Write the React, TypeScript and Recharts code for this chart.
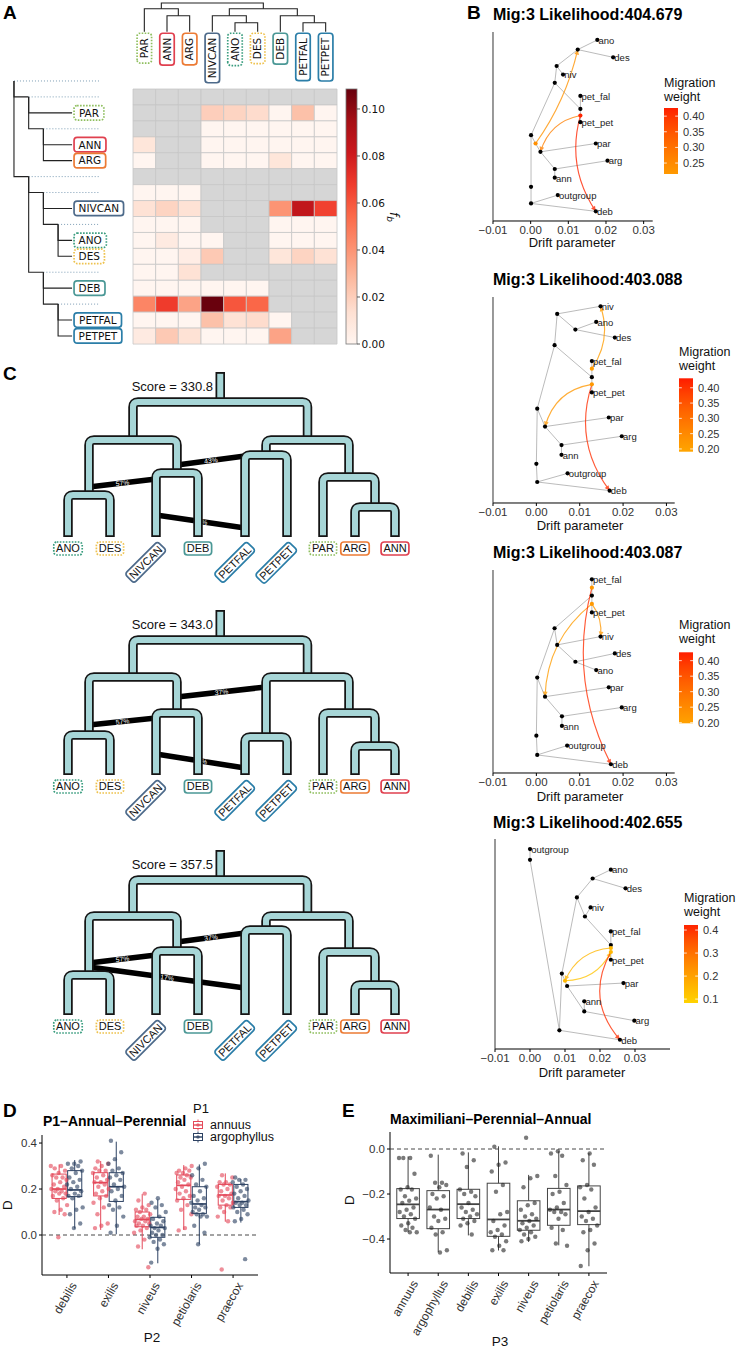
import React from "react";
import { ScatterChart, Scatter, XAxis, YAxis, BarChart, Bar, Cell } from "recharts";

const SANS = "'Liberation Sans', Arial, Helvetica, sans-serif";
const DEJA = "'DejaVu Sans', Verdana, sans-serif";

/* ---------------- A: f-branch heatmap ---------------- */
const hmCols = ["PAR", "ANN", "ARG", "NIVCAN", "ANO", "DES", "DEB", "PETFAL", "PETPET"];
const hmRows = ["", "PAR", "", "ANN", "ARG", "", "", "NIVCAN", "", "ANO", "DES", "", "DEB", "", "PETFAL", "PETPET"];
const X = null; // masked cell (grey)
const hmValues = [
  [X, X, X, X, X, X, X, X, X],
  [X, X, X, 0.02, 0.018, 0.015, 0, 0.025, 0],
  [X, X, X, 0, 0, 0, 0, 0, 0],
  [0.01, X, X, 0, 0, 0, 0, 0, 0],
  [0, X, X, 0, 0, 0, 0.01, 0, 0],
  [X, X, X, X, X, X, X, X, X],
  [0, 0, 0, X, X, X, X, X, X],
  [0.012, 0.018, 0.012, X, X, X, 0.04, 0.085, 0.066],
  [0, 0, 0, X, X, X, 0, 0, 0],
  [0, 0.007, 0, 0, X, X, 0, 0, 0],
  [0, 0, 0.005, 0.022, X, X, 0.01, 0.018, 0.012],
  [0, 0, 0.012, X, X, X, X, X, X],
  [0, 0, 0, 0, 0, 0, X, X, X],
  [0.045, 0.068, 0.035, 0.108, 0.06, 0.055, X, X, X],
  [0, 0, 0, 0.025, 0.012, 0.015, 0, X, X],
  [0.007, 0.022, 0.012, 0, 0, 0, 0.035, X, X],
];
const fbMax = 0.1085;
const fbTicks = [0, 0.02, 0.04, 0.06, 0.08, 0.1];

// row dendrogram: [id, depth, row, children]
const rowTree = [
  ["n0", 0, -1, ["n1", "n3"]],
  ["n1", 1, 0, ["PAR", "n2"]],
  ["n2", 2, 2, ["ANN", "ARG"]],
  ["n3", 1, 5, ["n4", "n6"]],
  ["n4", 2, 6, ["NIVCAN", "n5"]],
  ["n5", 3, 8, ["ANO", "DES"]],
  ["n6", 2, 11, ["DEB", "n7"]],
  ["n7", 3, 13, ["PETFAL", "PETPET"]],
];
const rowLeafDepth = 3.95;
const rowGuideEnd = 5.85;

// column dendrogram: [id, height, children]
const colTree = [
  ["c1", 2.13, ["ANN", "ARG"]],
  ["c2", 3.07, ["PAR", "c1"]],
  ["c3", 1.2, ["ANO", "DES"]],
  ["c4", 2.13, ["NIVCAN", "c3"]],
  ["c5", 1.2, ["PETFAL", "PETPET"]],
  ["c6", 2.13, ["DEB", "c5"]],
  ["c7", 3.07, ["c4", "c6"]],
  ["c8", 3.83, ["c2", "c7"]],
];

const taxonStyle = {
  PAR: { color: "#8fbf5f", dotted: true },
  ANN: { color: "#e0404f", dotted: false },
  ARG: { color: "#ec7b35", dotted: false },
  NIVCAN: { color: "#4d6a8a", dotted: false },
  ANO: { color: "#3a9d7f", dotted: true },
  DES: { color: "#eec24e", dotted: true },
  DEB: { color: "#4b9896", dotted: false },
  PETFAL: { color: "#2b7ea8", dotted: false },
  PETPET: { color: "#2b7ea8", dotted: false },
};

/* ---------------- C: admixture graphs ---------------- */
const cLeafPos = { ANO: 68, DES: 110, NIVCAN: 156, DEB: 198, PETFAL: 245, PETPET: 287, PAR: 323, ARG: 355, ANN: 395 };
const cLeafDepth = 135;
const cRotated = ["NIVCAN", "PETFAL", "PETPET"];
const cTopology = [
  ["root", ["L", "R"]],
  ["L", ["AD", "ND"]],
  ["R", ["PET", "PG"]],
  ["AD", ["ANO", "DES"]],
  ["ND", ["NIVCAN", "DEB"]],
  ["PET", ["PETFAL", "PETPET"]],
  ["PG", ["PAR", "AA"]],
  ["AA", ["ARG", "ANN"]],
];
const cScores = ["330.8", "343.0", "357.5"];
const cTreeTops = [402, 640, 880];
const cDepths = [
  { root: 0, L: 38, R: 38, AD: 93, ND: 71, PET: 53, PG: 75, AA: 105 },
  { root: 0, L: 37, R: 37, AD: 95, ND: 73, PET: 97, PG: 73, AA: 106 },
  { root: 0, L: 36, R: 36, AD: 95, ND: 71, PET: 50, PG: 72, AA: 105 },
];
// admixture edges: [from branch, depth, to branch, depth, label]
const cMigs = [
  [["ND", 63, "PETFAL", 54, "43%"], ["AD", 85, "NIVCAN", 77, "57%"], ["NIVCAN", 113, "PETFAL", 126, "21%"]],
  [["ND", 57, "PET", 47, "37%"], ["AD", 85, "NIVCAN", 78, "57%"], ["NIVCAN", 114, "PETFAL", 128, "19%"]],
  [["ND", 62, "PETFAL", 53, "37%"], ["AD", 83, "NIVCAN", 75, "57%"], ["AD", 87, "PETFAL", 108, "17%"]],
];

/* ---------------- B: TreeMix graphs ---------------- */
const bTitles = ["Mig:3 Likelihood:404.679", "Mig:3 Likelihood:403.088", "Mig:3 Likelihood:403.087", "Mig:3 Likelihood:402.655"];
const bLeafNames = ["ano", "des", "niv", "pet_fal", "pet_pet", "par", "arg", "ann", "outgroup", "deb"];

const b1Nodes = [
  ["ano", 0.0177, 0.958], ["des", 0.0219, 0.866], ["i1", 0.0125, 0.907], ["i2", 0.0069, 0.82],
  ["niv", 0.0086, 0.775], ["i3", 0.0064, 0.731], ["pet_fal", 0.0132, 0.662], ["i4", 0.0132, 0.593],
  ["m1", 0.0132, 0.558, 0.42], ["pet_pet", 0.0132, 0.523], ["i5", 0.0001, 0.454], ["m2", 0.0013, 0.41, 0.24],
  ["i6", 0.0026, 0.366], ["par", 0.0173, 0.41], ["arg", 0.0204, 0.319], ["i7", 0.0064, 0.275],
  ["ann", 0.0064, 0.229], ["i8", 0.0001, 0.181], ["outgroup", 0.0072, 0.137], ["i9", 0.0001, 0.093], ["deb", 0.0173, 0.051],
];
const b1Edges = [["ano", "i1"], ["des", "i1"], ["i1", "i2"], ["i2", "niv"], ["i2", "i3"], ["i3", "i4"], ["i4", "pet_fal"], ["i4", "m1"], ["m1", "pet_pet"], ["i3", "i5"], ["i5", "m2"], ["m2", "i6"], ["i6", "par"], ["i6", "i7"], ["i7", "arg"], ["i7", "ann"], ["i5", "i8"], ["i8", "i9"], ["i9", "outgroup"], ["i9", "deb"]];
const b1Migs = [["m2", "i1", 0.23], ["m1", "i6", 0.27], ["m1", "deb", 0.42]];
const b1Bend = [0.1, 0.3, 0.23];

const b2Nodes = [
  ["niv", 0.0148, 0.955], ["i1", 0.0048, 0.918], ["ano", 0.0138, 0.879], ["i2", 0.009, 0.842], ["des", 0.0181, 0.803],
  ["i3", 0.0042, 0.766], ["pet_fal", 0.0128, 0.689], ["m1", 0.0128, 0.652, 0.21], ["i4", 0.0128, 0.611], ["m2", 0.0128, 0.576, 0.22],
  ["pet_pet", 0.0128, 0.537], ["i5", 0.0002, 0.458], ["i6", 0.002, 0.371], ["par", 0.0167, 0.415], ["arg", 0.0197, 0.324],
  ["i7", 0.0058, 0.281], ["ann", 0.0058, 0.234], ["i8", 0, 0.19], ["outgroup", 0.0072, 0.144], ["i9", 0.0002, 0.102], ["deb", 0.0169, 0.06],
];
const b2Edges = [["niv", "i1"], ["i1", "i2"], ["i2", "ano"], ["i2", "des"], ["i1", "i3"], ["i3", "i4"], ["i4", "m1"], ["m1", "pet_fal"], ["i4", "m2"], ["m2", "pet_pet"], ["i3", "i5"], ["i5", "i6"], ["i6", "par"], ["i6", "i7"], ["i7", "arg"], ["i7", "ann"], ["i5", "i8"], ["i8", "i9"], ["i9", "outgroup"], ["i9", "deb"]];
const b2Migs = [["m1", "niv", 0.21], ["m2", "i6", 0.22], ["m2", "deb", 0.41]];
const b2Bend = [0.25, 0.32, 0.26];

const b3Nodes = [
  ["pet_fal", 0.0128, 0.954], ["m1", 0.0128, 0.913, 0.22], ["i1", 0.0128, 0.874], ["m2", 0.0128, 0.833, 0.22], ["pet_pet", 0.0128, 0.791],
  ["i2", 0.0042, 0.713], ["niv", 0.0148, 0.672], ["i3", 0.0048, 0.631], ["des", 0.0181, 0.589], ["i4", 0.009, 0.548], ["ano", 0.0138, 0.507],
  ["i5", 0.0002, 0.47], ["par", 0.0167, 0.422], ["i6", 0.002, 0.376], ["arg", 0.0197, 0.323], ["i7", 0.0059, 0.279], ["ann", 0.0059, 0.232],
  ["i8", 0, 0.184], ["outgroup", 0.0071, 0.135], ["i9", 0.0002, 0.089], ["deb", 0.0172, 0.043],
];
const b3Edges = [["pet_fal", "m1"], ["m1", "i1"], ["i1", "m2"], ["m2", "pet_pet"], ["i1", "i2"], ["i2", "i3"], ["i3", "niv"], ["i3", "i4"], ["i4", "des"], ["i4", "ano"], ["i2", "i5"], ["i5", "i6"], ["i6", "par"], ["i6", "i7"], ["i7", "arg"], ["i7", "ann"], ["i5", "i8"], ["i8", "i9"], ["i9", "outgroup"], ["i9", "deb"]];
const b3Migs = [["m2", "niv", 0.22], ["m2", "i6", 0.21], ["m1", "deb", 0.41]];
const b3Bend = [-0.2, 0.23, 0.19];

const b4Nodes = [
  ["outgroup", 0, 0.952], ["i1", 0, 0.901], ["ano", 0.0231, 0.854], ["i2", 0.0179, 0.812], ["des", 0.0273, 0.765],
  ["i3", 0.0134, 0.722], ["niv", 0.0173, 0.674], ["i4", 0.0157, 0.631], ["pet_fal", 0.0231, 0.56], ["i5", 0.0231, 0.495],
  ["m1", 0.0231, 0.481, 0.15], ["m2", 0.0231, 0.462, 0.15], ["pet_pet", 0.0231, 0.425], ["i6", 0.0091, 0.359], ["m3", 0.01, 0.325, 0.15],
  ["i7", 0.0106, 0.3], ["par", 0.0267, 0.314], ["ann", 0.0155, 0.227], ["i8", 0.0155, 0.179], ["arg", 0.0298, 0.135], ["i9", 0.0084, 0.089], ["deb", 0.0257, 0.044],
];
const b4Edges = [["outgroup", "i1"], ["i1", "i9"], ["i9", "deb"], ["i9", "i6"], ["i6", "i3"], ["i3", "i2"], ["i2", "ano"], ["i2", "des"], ["i3", "i4"], ["i4", "niv"], ["i4", "i5"], ["i5", "m1"], ["m1", "m2"], ["m2", "pet_pet"], ["i5", "pet_fal"], ["i6", "m3"], ["m3", "i7"], ["i7", "par"], ["i7", "i8"], ["i8", "ann"], ["i8", "arg"]];
const b4Migs = [["m1", "m3", 0.15], ["m3", "m2", 0.12], ["m2", "deb", 0.41]];
const b4Bend = [0.3, 0.3, 0.35];

const bDriftTicks = [-0.01, 0, 0.01, 0.02, 0.03];
const bPlots = [
  { nodes: b1Nodes, edges: b1Edges, migs: b1Migs, bend: b1Bend, box: { x0: 492.7, y0: 32, x1: 652.4, y1: 221 }, dom: [-0.01, 0.0324] },
  { nodes: b2Nodes, edges: b2Edges, migs: b2Migs, bend: b2Bend, box: { x0: 493.3, y0: 297, x1: 675, y1: 503 }, dom: [-0.01, 0.0319] },
  { nodes: b3Nodes, edges: b3Edges, migs: b3Migs, bend: b3Bend, box: { x0: 493.3, y0: 570, x1: 675, y1: 773 }, dom: [-0.01, 0.0319] },
  { nodes: b4Nodes, edges: b4Edges, migs: b4Migs, bend: b4Bend, box: { x0: 495, y0: 839, x1: 670, y1: 1049 }, dom: [-0.01, 0.04] },
];
const bLegends = [
  { x: 664, y0: 108, y1: 174, lo: 0.215, hi: 0.426, ticks: [0.25, 0.3, 0.35, 0.4], dec: 2, tb: 87 },
  { x: 679, y0: 378.3, y1: 451.7, lo: 0.191, hi: 0.431, ticks: [0.2, 0.25, 0.3, 0.35, 0.4], dec: 2, tb: 356 },
  { x: 679, y0: 652.3, y1: 723.3, lo: 0.198, hi: 0.427, ticks: [0.2, 0.25, 0.3, 0.35, 0.4], dec: 2, tb: 629 },
  { x: 684, y0: 925, y1: 1003, lo: 0.083, hi: 0.422, ticks: [0.1, 0.2, 0.3, 0.4], dec: 1, tb: 902 },
];
const bTitleY = [20, 285, 558, 828];
const bDriftPos = [[572, 247], [580, 530], [580, 801], [582, 1077]];

/* ---------------- D: P1-Annual-Perennial ---------------- */
const dSpecies = ["debilis", "exilis", "niveus", "petiolaris", "praecox"];
const dGroups = ["annuus", "argophyllus"];
const dColors = ["#e4495a", "#2d4263"];
// [lower whisker, q1, median, q3, upper whisker]
const dStatsAnnuus = [[0.087, 0.159, 0.2, 0.265, 0.307], [0.022, 0.17, 0.228, 0.271, 0.322], [-0.062, 0.036, 0.068, 0.1, 0.178], [0.022, 0.155, 0.216, 0.261, 0.304], [0.058, 0.13, 0.174, 0.22, 0.268]];
const dStatsArgo = [[0.028, 0.167, 0.196, 0.28, 0.326], [0.003, 0.146, 0.21, 0.271, 0.406], [-0.123, -0.01, 0.033, 0.077, 0.155], [-0.041, 0.094, 0.135, 0.21, 0.307], [0.054, 0.12, 0.145, 0.22, 0.243]];
const dPtsAnnuus = [
  [0.3, 0.3, 0.29, 0.28, 0.27, 0.26, 0.25, 0.25, 0.24, 0.23, 0.22, 0.21, 0.2, 0.2, 0.19, 0.19, 0.18, 0.18, 0.17, 0.16, 0.15, 0.13, 0.11, 0.1, 0.09, -0.01],
  [0.32, 0.31, 0.3, 0.29, 0.28, 0.28, 0.27, 0.26, 0.25, 0.24, 0.23, 0.23, 0.22, 0.21, 0.2, 0.19, 0.18, 0.17, 0.16, 0.14, 0.12, 0.09, 0.05, 0.04, 0.03],
  [0.18, 0.15, 0.13, 0.12, 0.11, 0.11, 0.1, 0.09, 0.08, 0.08, 0.07, 0.07, 0.06, 0.06, 0.05, 0.05, 0.04, 0.04, 0.03, 0.02, 0.01, -0.02, -0.05, -0.14],
  [0.3, 0.29, 0.28, 0.28, 0.27, 0.27, 0.26, 0.25, 0.25, 0.24, 0.23, 0.22, 0.21, 0.2, 0.19, 0.18, 0.17, 0.16, 0.15, 0.13, 0.11, 0.09, 0.03, 0.02],
  [0.26, 0.25, 0.23, 0.23, 0.22, 0.22, 0.21, 0.2, 0.19, 0.18, 0.17, 0.17, 0.16, 0.15, 0.14, 0.13, 0.12, 0.12, 0.1, 0.08, 0.06, -0.15],
];
const dPtsArgo = [
  [0.32, 0.31, 0.31, 0.3, 0.29, 0.28, 0.27, 0.25, 0.24, 0.23, 0.22, 0.21, 0.2, 0.19, 0.18, 0.17, 0.17, 0.16, 0.12, 0.11, 0.09, 0.05, 0.03],
  [0.41, 0.36, 0.33, 0.31, 0.29, 0.28, 0.27, 0.26, 0.25, 0.24, 0.22, 0.21, 0.2, 0.19, 0.17, 0.15, 0.13, 0.12, 0.11, 0.08, 0.04, 0.01],
  [0.16, 0.14, 0.13, 0.12, 0.1, 0.08, 0.07, 0.06, 0.05, 0.04, 0.04, 0.03, 0.03, 0.02, 0.01, 0, 0, -0.01, -0.02, -0.03, -0.04, -0.06, -0.12],
  [0.31, 0.29, 0.26, 0.24, 0.22, 0.21, 0.19, 0.17, 0.16, 0.15, 0.14, 0.13, 0.12, 0.12, 0.11, 0.1, 0.09, 0.09, 0.08, 0.08, 0.04, 0.01, -0.04],
  [0.25, 0.24, 0.24, 0.23, 0.22, 0.21, 0.2, 0.19, 0.18, 0.17, 0.16, 0.15, 0.14, 0.14, 0.13, 0.13, 0.12, 0.11, 0.1, 0.09, 0.07, 0.06, -0.105],
];

/* ---------------- E: Maximiliani-Perennial-Annual ---------------- */
const eSpecies = ["annuus", "argophyllus", "debilis", "exilis", "niveus", "petiolaris", "praecox"];
const eStats = [
  [-0.369, -0.309, -0.246, -0.176, -0.033],
  [-0.458, -0.354, -0.269, -0.185, -0.025],
  [-0.384, -0.309, -0.245, -0.179, -0.015],
  [-0.451, -0.388, -0.313, -0.152, 0.012],
  [-0.413, -0.361, -0.319, -0.23, -0.115],
  [-0.428, -0.339, -0.269, -0.175, -0.01],
  [-0.521, -0.336, -0.276, -0.164, -0.018],
];
const ePts = [
  [-0.04, -0.04, -0.04, -0.11, -0.17, -0.18, -0.18, -0.21, -0.22, -0.23, -0.24, -0.26, -0.27, -0.28, -0.29, -0.3, -0.31, -0.33, -0.34, -0.35, -0.36, -0.37, -0.37],
  [-0.03, -0.15, -0.15, -0.16, -0.17, -0.2, -0.21, -0.22, -0.26, -0.27, -0.3, -0.31, -0.32, -0.35, -0.37, -0.38, -0.45, -0.46],
  [-0.02, -0.05, -0.08, -0.18, -0.19, -0.2, -0.21, -0.24, -0.26, -0.27, -0.28, -0.29, -0.3, -0.31, -0.32, -0.33, -0.34, -0.38],
  [0.01, -0.06, -0.07, -0.1, -0.16, -0.19, -0.28, -0.29, -0.32, -0.34, -0.36, -0.37, -0.38, -0.39, -0.41, -0.43, -0.45, -0.45],
  [0.05, -0.12, -0.13, -0.17, -0.24, -0.25, -0.27, -0.29, -0.3, -0.31, -0.32, -0.33, -0.34, -0.35, -0.36, -0.37, -0.38, -0.39, -0.4, -0.41],
  [-0.01, -0.02, -0.03, -0.12, -0.16, -0.19, -0.2, -0.24, -0.26, -0.27, -0.28, -0.28, -0.29, -0.31, -0.35, -0.36, -0.42, -0.43],
  [-0.02, -0.05, -0.07, -0.16, -0.17, -0.18, -0.22, -0.26, -0.28, -0.3, -0.31, -0.32, -0.34, -0.36, -0.37, -0.42, -0.45, -0.52],
];

/* ---------------- helpers ---------------- */
const Empty = () => <g />;

function mix(a, b, f) {
  const pa = [1, 3, 5].map((i) => parseInt(a.slice(i, i + 2), 16));
  const pb = [1, 3, 5].map((i) => parseInt(b.slice(i, i + 2), 16));
  return `rgb(${pa.map((v, k) => Math.round(v + (pb[k] - v) * f)).join(",")})`;
}
const redsStops = ["#fff5f0", "#fee0d2", "#fcbba1", "#fc9272", "#fb6a4a", "#ef3b2c", "#cb181d", "#a50f15", "#67000d"];
function reds(v) {
  const s = Math.max(0, Math.min(1, v / fbMax)) * 8;
  const i = Math.min(7, Math.floor(s));
  return mix(redsStops[i], redsStops[i + 1], s - i);
}
const cellFill = (v) => (v === null ? "#d6d6d6" : reds(v));

function migColor(w) {
  const t = Math.max(0, Math.min(1, (w - 0.05) / 0.4));
  return `rgb(255,${Math.round(224 * Math.pow(1 - t, 0.7))},0)`;
}

const capW = {
  A: [0.684, 0.667], B: [0.686, 0.667], C: [0.698, 0.722], D: [0.77, 0.722], E: [0.632, 0.667], F: [0.575, 0.611],
  G: [0.775, 0.778], I: [0.295, 0.278], L: [0.557, 0.556], N: [0.748, 0.722], O: [0.787, 0.778], P: [0.603, 0.667],
  R: [0.695, 0.722], S: [0.635, 0.667], T: [0.611, 0.611], V: [0.684, 0.667],
};

function taxonBox(name, x, y, o) {
  const st = taxonStyle[name];
  const tw = name.split("").reduce((s, c) => s + (capW[c] ? capW[c][o.deja ? 0 : 1] : 0.65), 0) * o.size;
  const w = tw + 2 * o.padX;
  const x0 = o.anchor === "start" ? 0 : o.anchor === "end" ? -w : -w / 2;
  return (
    <g transform={`translate(${x},${y}) rotate(${o.angle || 0})`}>
      <rect x={x0} y={-o.h / 2} width={w} height={o.h} rx={3} ry={3} fill="#fff" stroke={st.color} strokeWidth={1.7} strokeDasharray={st.dotted ? "1.6 1.4" : undefined} />
      <text x={x0 + w / 2} y={0} dy="0.36em" textAnchor="middle" fontFamily={o.deja ? DEJA : SANS} fontSize={o.size} fill="#111">
        {name}
      </text>
    </g>
  );
}

function roundedPath(pts, r) {
  let d = `M${pts[0].x},${pts[0].y}`;
  for (let i = 1; i < pts.length - 1; i++) {
    const a = pts[i - 1], p = pts[i], b = pts[i + 1];
    const la = Math.hypot(p.x - a.x, p.y - a.y) || 1;
    const lb = Math.hypot(b.x - p.x, b.y - p.y) || 1;
    const ra = Math.min(r, la / 2), rb = Math.min(r, lb / 2);
    d += ` L${p.x + ((a.x - p.x) * ra) / la},${p.y + ((a.y - p.y) * ra) / la}`;
    d += ` Q${p.x},${p.y} ${p.x + ((b.x - p.x) * rb) / lb},${p.y + ((b.y - p.y) * rb) / lb}`;
  }
  const e = pts[pts.length - 1];
  return d + ` L${e.x},${e.y}`;
}
function trimEnds(pts, t) {
  const out = pts.map((q) => ({ x: q.x, y: q.y }));
  const mv = (i, j) => {
    const dx = out[j].x - out[i].x, dy = out[j].y - out[i].y;
    const l = Math.hypot(dx, dy) || 1;
    out[i].x += (dx / l) * t;
    out[i].y += (dy / l) * t;
  };
  mv(0, 1);
  mv(out.length - 1, out.length - 2);
  return out;
}

const pipe = (p) => (
  <g>
    <path d={roundedPath(p.points, 5)} fill="none" stroke="#151515" strokeWidth={9.5} />
    <path d={roundedPath(trimEnds(p.points, 1.8), 5)} fill="none" stroke="#a7d6d7" strokeWidth={6} />
  </g>
);

const migBar = (lab) => (p) => {
  const [a, b] = p.points;
  const ang = (Math.atan2(b.y - a.y, b.x - a.x) * 180) / Math.PI;
  const mx = (a.x + b.x) / 2, my = (a.y + b.y) / 2;
  return (
    <g>
      <line x1={a.x} y1={a.y} x2={b.x} y2={b.y} stroke="#000" strokeWidth={5.5} />
      <text transform={`translate(${mx},${my}) rotate(${ang})`} textAnchor="middle" dy="0.36em" fontSize={6.8} fill="#fff" fontFamily={SANS}>
        {lab}
      </text>
    </g>
  );
};

function curveLine(w, bend) {
  return (p) => {
    const [a, b] = p.points;
    const dx = b.x - a.x, dy = b.y - a.y;
    const qx = (a.x + b.x) / 2 - dy * bend, qy = (a.y + b.y) / 2 + dx * bend;
    const tx = b.x - qx, ty = b.y - qy, tl = Math.hypot(tx, ty) || 1;
    const ux = tx / tl, uy = ty / tl;
    const bx = b.x - ux * 5, by = b.y - uy * 5;
    const col = migColor(w);
    return (
      <g opacity={0.78}>
        <path d={`M${a.x},${a.y} Q${qx},${qy} ${b.x},${b.y}`} fill="none" stroke={col} strokeWidth={1.15} />
        <path d={`M${b.x},${b.y} L${bx - uy * 2.4},${by + ux * 2.4} L${bx + uy * 2.4},${by - ux * 2.4} Z`} fill={col} />
      </g>
    );
  };
}

const nodeDot = (p) => {
  const { cx, cy, payload } = p;
  const leaf = bLeafNames.includes(payload.id);
  return (
    <g>
      <circle cx={cx} cy={cy} r={2.1} fill={payload.w ? migColor(payload.w) : "#000"} />
      {leaf && (
        <text x={cx + 1.2} y={cy} dy="0.4em" fontSize={9.5} fontFamily={SANS} fill="#222">
          {payload.id}
        </text>
      )}
    </g>
  );
};

const jit = (i) => ((i * 0.6180339887) % 1) * 2 - 1;

const boxData = (c, hw, s) => [
  { x: c - hw, y: s[1] }, { x: c + hw, y: s[3] }, { x: c, y: s[2] }, { x: c, y: s[0] }, { x: c, y: s[4] },
];
const boxLine = (stroke, medW) => (p) => {
  const [a, b, m, lo, hi] = p.points;
  const x0 = Math.min(a.x, b.x), x1 = Math.max(a.x, b.x);
  const y0 = Math.min(a.y, b.y), y1 = Math.max(a.y, b.y);
  return (
    <g>
      <line x1={m.x} x2={m.x} y1={y1} y2={lo.y} stroke={stroke} strokeWidth={1} />
      <line x1={m.x} x2={m.x} y1={y0} y2={hi.y} stroke={stroke} strokeWidth={1} />
      <rect x={x0} y={y0} width={x1 - x0} height={y1 - y0} fill="none" stroke={stroke} strokeWidth={1} />
      <line x1={x0} x2={x1} y1={m.y} y2={m.y} stroke={stroke} strokeWidth={medW} />
    </g>
  );
};
const dot = (color, op, r) => (p) => <circle cx={p.cx} cy={p.cy} r={r} fill={color} fillOpacity={op} />;

function rotTick(p, names) {
  const { x, y, payload } = p;
  const tx = x + 3, ty = y + 1;
  return (
    <text x={tx} y={ty} transform={`rotate(-60 ${tx} ${ty})`} textAnchor="end" dy="0.71em" fontSize={12} fill="#333" fontFamily={SANS}>
      {names[Math.round(payload.value) - 1]}
    </text>
  );
}
const minus = (v, d) => (v < 0 ? "\u2212" : "") + Math.abs(v).toFixed(d);

/* ---------------- panels ---------------- */
function Heatmap() {
  const data = hmRows.map((_, i) => {
    const o = { row: String(i) };
    hmCols.forEach((_, j) => (o["c" + j] = 1));
    return o;
  });
  return (
    <div style={{ position: "absolute", left: 127, top: 83 }}>
      <BarChart layout="vertical" width={212} height={263} data={data} margin={{ top: 1, right: 2, bottom: 2, left: 1 }} barCategoryGap={0} barGap={0}>
        <XAxis type="number" orientation="top" domain={[0, 9]} ticks={hmCols.map((_, j) => j + 0.5)} interval={0} tick={false} axisLine={false} tickSize={4} height={5} stroke="#555" />
        <YAxis type="category" dataKey="row" interval={0} tick={false} axisLine={false} tickSize={4} width={5} stroke="#555" />
        {hmCols.map((c, j) => (
          <Bar key={c} dataKey={"c" + j} stackId="hm" isAnimationActive={false}>
            {hmValues.map((r, i) => (
              <Cell key={i} fill={cellFill(r[j])} stroke="#c6c6c6" strokeWidth={0.8} />
            ))}
          </Bar>
        ))}
      </BarChart>
    </div>
  );
}

function RowDendro() {
  const depthOf = {}, rowOf = {};
  rowTree.forEach(([id, d, r]) => { depthOf[id] = d; rowOf[id] = r; });
  hmRows.forEach((n, i) => { if (n) { depthOf[n] = rowLeafDepth; rowOf[n] = i; } });
  const elbows = [];
  const guides = [];
  rowTree.forEach(([id, d, r, kids]) => {
    kids.forEach((k) => elbows.push([{ x: d, y: r }, { x: d, y: rowOf[k] }, { x: depthOf[k], y: rowOf[k] }]));
    guides.push([{ x: d, y: r }, { x: rowGuideEnd, y: r }]);
  });
  const leaves = hmRows.map((n, i) => ({ x: rowLeafDepth, y: i, name: n })).filter((l) => l.name);
  return (
    <div style={{ position: "absolute", left: 0, top: 70.06 }}>
      <ScatterChart width={130} height={276.94} margin={{ top: 3, right: 20, bottom: 3, left: 0 }}>
        <XAxis type="number" dataKey="x" domain={[-0.95, 6.53]} hide />
        <YAxis type="number" dataKey="y" domain={[-1.5, 15.5]} reversed hide />
        {guides.map((g, i) => (
          <Scatter key={"g" + i} data={g} line={{ stroke: "#6f93ad", strokeWidth: 0.9, strokeDasharray: "1 2" }} shape={Empty} isAnimationActive={false} />
        ))}
        {elbows.map((e, i) => (
          <Scatter key={"e" + i} data={e} line={{ stroke: "#222", strokeWidth: 1.1 }} shape={Empty} isAnimationActive={false} />
        ))}
        <Scatter data={leaves} isAnimationActive={false}
          shape={(p) => taxonBox(p.payload.name, p.cx + 2, p.cy, { deja: true, size: 10.5, padX: 4.5, h: 14.5, anchor: "start" })} />
      </ScatterChart>
    </div>
  );
}

function ColDendro() {
  const xOf = {}, hOf = {};
  hmCols.forEach((c, j) => { xOf[c] = j; hOf[c] = 0; });
  colTree.forEach(([id, h, [a, b]]) => { xOf[id] = (xOf[a] + xOf[b]) / 2; hOf[id] = h; });
  const links = colTree.map(([id, h, [a, b]]) => [
    { x: xOf[a], y: hOf[a] }, { x: xOf[a], y: h }, { x: xOf[b], y: h }, { x: xOf[b], y: hOf[b] },
  ]);
  const leaves = hmCols.map((c, j) => ({ x: j, y: 0, name: c }));
  return (
    <div style={{ position: "absolute", left: 128, top: 0.25 }}>
      <ScatterChart width={214} height={87.75} margin={{ top: 1, right: 5, bottom: 56, left: 5 }}>
        <XAxis type="number" dataKey="x" domain={[-0.5, 8.5]} hide />
        <YAxis type="number" dataKey="y" domain={[0, 4.1]} hide />
        {links.map((l, i) => (
          <Scatter key={i} data={l} line={{ stroke: "#222", strokeWidth: 1.1 }} shape={Empty} isAnimationActive={false} />
        ))}
        <Scatter data={leaves} isAnimationActive={false}
          shape={(p) => taxonBox(p.payload.name, p.cx, p.cy + 1.5, { deja: true, size: 10.5, padX: 4.5, h: 14.5, angle: -90, anchor: "end" })} />
      </ScatterChart>
    </div>
  );
}

function NetTree({ idx }) {
  const top = cTreeTops[idx];
  const xOf = { ...cLeafPos };
  const dOf = {};
  Object.keys(cLeafPos).forEach((k) => (dOf[k] = cLeafDepth));
  [...cTopology].reverse().forEach(([id, [a, b]]) => (xOf[id] = (xOf[a] + xOf[b]) / 2));
  Object.assign(dOf, cDepths[idx]);
  const arches = cTopology.map(([id, [a, b]]) => [
    { x: xOf[a], y: dOf[a] }, { x: xOf[a], y: dOf[id] }, { x: xOf[b], y: dOf[id] }, { x: xOf[b], y: dOf[b] },
  ]);
  const stub = [{ x: xOf.root, y: -30 }, { x: xOf.root, y: 0 }];
  const leaves = Object.keys(cLeafPos).map((k) => ({ x: xOf[k], y: cLeafDepth, name: k }));
  return (
    <div style={{ position: "absolute", left: 0, top: top - 35 }}>
      <ScatterChart width={480} height={225} margin={{ top: 0, right: 0, bottom: 0, left: 0 }}>
        <XAxis type="number" dataKey="x" domain={[0, 480]} hide />
        <YAxis type="number" dataKey="y" domain={[-35, 190]} reversed hide />
        {cMigs[idx].map(([a, da, b, db, lab], i) => (
          <Scatter key={"m" + i} data={[{ x: xOf[a], y: da }, { x: xOf[b], y: db }]} line={migBar(lab)} shape={Empty} isAnimationActive={false} />
        ))}
        <Scatter data={stub} line={pipe} shape={Empty} isAnimationActive={false} />
        {arches.map((a, i) => (
          <Scatter key={"a" + i} data={a} line={pipe} shape={Empty} isAnimationActive={false} />
        ))}
        <Scatter data={leaves} isAnimationActive={false}
          shape={(p) => cRotated.includes(p.payload.name)
            ? taxonBox(p.payload.name, p.cx + 6, p.cy + 9, { deja: false, size: 11, padX: 2.3, h: 13, angle: -45, anchor: "end" })
            : taxonBox(p.payload.name, p.cx, p.cy + 11.5, { deja: false, size: 11, padX: 2.3, h: 13, anchor: "middle" })} />
      </ScatterChart>
    </div>
  );
}

function TreemixPlot({ idx }) {
  const cfg = bPlots[idx];
  const { box } = cfg;
  const byId = {};
  cfg.nodes.forEach(([id, x, y, w]) => (byId[id] = { id, x, y, w }));
  const padL = 20, padR = 8, padT = 4, padB = 2, xH = 16, yW = 1;
  return (
    <div style={{ position: "absolute", left: box.x0 - padL, top: box.y0 - padT }}>
      <ScatterChart width={box.x1 - box.x0 + padL + padR} height={box.y1 - box.y0 + padT + padB + xH}
        margin={{ top: padT, right: padR, bottom: padB, left: padL - yW }}>
        <XAxis type="number" dataKey="x" domain={cfg.dom} ticks={bDriftTicks} interval={0} tickSize={3} height={xH} stroke="#000"
          tickFormatter={(v) => minus(v, 2)} tick={{ fontSize: 11.5, fill: "#333", fontFamily: SANS }} />
        <YAxis type="number" dataKey="y" domain={[0, 1]} width={yW} tick={false} tickLine={false} stroke="#333" />
        {cfg.edges.map(([a, b], i) => (
          <Scatter key={"e" + i} data={[byId[a], byId[b]]} line={{ stroke: "#b3b3b3", strokeWidth: 0.9 }} shape={Empty} isAnimationActive={false} />
        ))}
        {cfg.migs.map(([a, b, w], i) => (
          <Scatter key={"m" + i} data={[byId[a], byId[b]]} line={curveLine(w, cfg.bend[i])} shape={Empty} isAnimationActive={false} />
        ))}
        <Scatter data={cfg.nodes.map(([id]) => byId[id])} shape={nodeDot} isAnimationActive={false} />
      </ScatterChart>
    </div>
  );
}

function PanelD() {
  const groups = [
    { stats: dStatsAnnuus, pts: dPtsAnnuus, off: -0.1875, color: dColors[0] },
    { stats: dStatsArgo, pts: dPtsArgo, off: 0.1875, color: dColors[1] },
  ];
  return (
    <div style={{ position: "absolute", left: 0, top: 1130 }}>
      <ScatterChart width={268} height={200} margin={{ top: 5, right: 10, bottom: 0, left: 12 }}>
        <XAxis type="number" dataKey="x" domain={[0.4, 5.6]} ticks={[1, 2, 3, 4, 5]} interval={0} tickSize={3} height={55} stroke="#000"
          tick={(p) => rotTick(p, dSpecies)} />
        <YAxis type="number" dataKey="y" domain={[-0.174, 0.435]} ticks={[0, 0.2, 0.4]} interval={0} tickSize={3} width={30} stroke="#000"
          tickFormatter={(v) => minus(v, 1)} tick={{ fontSize: 11.5, fill: "#333", fontFamily: SANS }} />
        <Scatter data={[{ x: 0.4, y: 0 }, { x: 5.6, y: 0 }]} line={{ stroke: "#333", strokeWidth: 0.9, strokeDasharray: "4 3" }} shape={Empty} isAnimationActive={false} />
        {groups.map((g, gi) => g.stats.map((s, k) => (
          <Scatter key={`b${gi}-${k}`} data={boxData(k + 1 + g.off, 0.17, s)} line={boxLine(g.color, 1.7)} shape={Empty} isAnimationActive={false} />
        )))}
        {groups.map((g, gi) => g.pts.map((vals, k) => (
          <Scatter key={`p${gi}-${k}`} data={vals.map((v, i) => ({ x: k + 1 + g.off + jit(i + k * 7 + gi * 3) * 0.2, y: v }))}
            shape={dot(g.color, 0.62, 2.2)} isAnimationActive={false} />
        )))}
      </ScatterChart>
    </div>
  );
}

function PanelE() {
  return (
    <div style={{ position: "absolute", left: 360, top: 1127 }}>
      <ScatterChart width={255} height={211} margin={{ top: 5, right: 8, bottom: 0, left: 2 }}>
        <XAxis type="number" dataKey="x" domain={[0.4, 7.6]} ticks={[1, 2, 3, 4, 5, 6, 7]} interval={0} tickSize={3} height={65} stroke="#000"
          tick={(p) => rotTick(p, eSpecies)} />
        <YAxis type="number" dataKey="y" domain={[-0.551, 0.0756]} ticks={[-0.4, -0.2, 0]} interval={0} tickSize={3} width={28} stroke="#000"
          tickFormatter={(v) => minus(v, 1)} tick={{ fontSize: 11.5, fill: "#333", fontFamily: SANS }} />
        <Scatter data={[{ x: 0.4, y: 0 }, { x: 7.6, y: 0 }]} line={{ stroke: "#333", strokeWidth: 0.9, strokeDasharray: "4 3" }} shape={Empty} isAnimationActive={false} />
        {eStats.map((s, k) => (
          <Scatter key={"b" + k} data={boxData(k + 1, 0.375, s)} line={boxLine("#444", 1.8)} shape={Empty} isAnimationActive={false} />
        ))}
        {ePts.map((vals, k) => (
          <Scatter key={"p" + k} data={vals.map((v, i) => ({ x: k + 1 + jit(i + k * 5) * 0.3, y: v }))}
            shape={dot("#222", 0.6, 2.2)} isAnimationActive={false} />
        ))}
      </ScatterChart>
    </div>
  );
}

function Overlay() {
  const fbY = (v) => 344 - (v / fbMax) * 255;
  const letter = { fontSize: 19, fontWeight: 700, fill: "#000" };
  return (
    <svg width={739} height={1350} style={{ position: "absolute", left: 0, top: 0 }} fontFamily={SANS}>
      <defs>
        <linearGradient id="fbGrad" x1="0" y1="1" x2="0" y2="0">
          {redsStops.map((c, i) => <stop key={i} offset={i / 8} stopColor={c} />)}
        </linearGradient>
        {bLegends.map((L, i) => (
          <linearGradient key={i} id={"mg" + i} x1="0" y1="1" x2="0" y2="0">
            {[0, 0.2, 0.4, 0.6, 0.8, 1].map((f) => <stop key={f} offset={f} stopColor={migColor(L.lo + f * (L.hi - L.lo))} />)}
          </linearGradient>
        ))}
      </defs>

      <text x={3} y={19} {...letter}>A</text>
      <text x={467} y={19} {...letter}>B</text>
      <text x={3} y={380} {...letter}>C</text>
      <text x={3} y={1117} {...letter}>D</text>
      <text x={342} y={1117} {...letter}>E</text>

      {/* A colour bar */}
      <rect x={346} y={89} width={11} height={255} fill="url(#fbGrad)" stroke="#777" strokeWidth={0.8} />
      {fbTicks.map((v) => (
        <g key={v}>
          <line x1={357} x2={360} y1={fbY(v)} y2={fbY(v)} stroke="#333" strokeWidth={0.8} />
          <text x={361.5} y={fbY(v)} dy="0.36em" fontSize={10.5} fontFamily={DEJA} fill="#111">{v.toFixed(2)}</text>
        </g>
      ))}
      <text transform="translate(390,217) rotate(90)" textAnchor="middle" fontFamily={DEJA} fontSize={12} fontStyle="italic" fill="#111">
        f<tspan fontSize={9} dy={3}>b</tspan>
      </text>

      {/* C scores */}
      {cScores.map((s, i) => (
        <text key={s} x={213} y={cTreeTops[i] - 11.5} textAnchor="end" fontSize={13} fill="#111">Score = {s}</text>
      ))}

      {/* B titles, axis titles, legends */}
      {bTitles.map((t, i) => (
        <text key={t} x={493} y={bTitleY[i]} fontSize={16} fontWeight={700} fill="#000">{t}</text>
      ))}
      {bDriftPos.map(([x, y], i) => (
        <text key={i} x={x} y={y} textAnchor="middle" fontSize={13} fill="#111">Drift parameter</text>
      ))}
      {bLegends.map((L, i) => {
        const yOf = (v) => L.y1 - ((v - L.lo) / (L.hi - L.lo)) * (L.y1 - L.y0);
        return (
          <g key={i}>
            <text x={L.x} y={L.tb} fontSize={12.5} fill="#111">Migration</text>
            <text x={L.x} y={L.tb + 13.5} fontSize={12.5} fill="#111">weight</text>
            <rect x={L.x} y={L.y0} width={14} height={L.y1 - L.y0} fill={`url(#mg${i})`} />
            {L.ticks.map((v) => (
              <g key={v}>
                <line x1={L.x} x2={L.x + 2.8} y1={yOf(v)} y2={yOf(v)} stroke="#fff" strokeWidth={0.8} />
                <line x1={L.x + 11.2} x2={L.x + 14} y1={yOf(v)} y2={yOf(v)} stroke="#fff" strokeWidth={0.8} />
                <text x={L.x + 19} y={yOf(v)} dy="0.36em" fontSize={11} fill="#333">{v.toFixed(L.dec)}</text>
              </g>
            ))}
          </g>
        );
      })}

      {/* D titles and legend */}
      <text x={43} y={1126} fontSize={14} fontWeight={700} fill="#000">P1–Annual–Perennial</text>
      <text x={193} y={1113} fontSize={13} fill="#111">P1</text>
      {dGroups.map((g, i) => {
        const cy = 1125 + i * 12;
        return (
          <g key={g}>
            <line x1={198} x2={198} y1={cy - 5.5} y2={cy + 5.5} stroke={dColors[i]} />
            <rect x={193.5} y={cy - 3.5} width={9} height={7} fill="#fff" stroke={dColors[i]} />
            <line x1={193.5} x2={202.5} y1={cy} y2={cy} stroke={dColors[i]} strokeWidth={1.4} />
            <circle cx={198} cy={cy} r={1.8} fill={dColors[i]} fillOpacity={0.7} />
            <text x={210} y={cy + 4.3} fontSize={12.5} fill="#111">{g}</text>
          </g>
        );
      })}
      <text transform="translate(12,1205) rotate(-90)" textAnchor="middle" fontSize={13.5} fill="#111">D</text>
      <text x={152} y={1342} textAnchor="middle" fontSize={13.5} fill="#111">P2</text>

      {/* E titles */}
      <text x={390} y={1124} fontSize={14} fontWeight={700} fill="#000">Maximiliani–Perennial–Annual</text>
      <text transform="translate(354,1200) rotate(-90)" textAnchor="middle" fontSize={13.5} fill="#111">D</text>
      <text x={500} y={1346} textAnchor="middle" fontSize={13.5} fill="#111">P3</text>
    </svg>
  );
}

export default function App() {
  return (
    <div style={{ position: "absolute", left: 0, top: 0, width: 739, height: 1350, background: "#fff", fontFamily: SANS, overflow: "hidden" }}>
      <RowDendro />
      <ColDendro />
      <Heatmap />
      {cTreeTops.map((_, i) => <NetTree key={i} idx={i} />)}
      {bPlots.map((_, i) => <TreemixPlot key={i} idx={i} />)}
      <PanelD />
      <PanelE />
      <Overlay />
    </div>
  );
}
